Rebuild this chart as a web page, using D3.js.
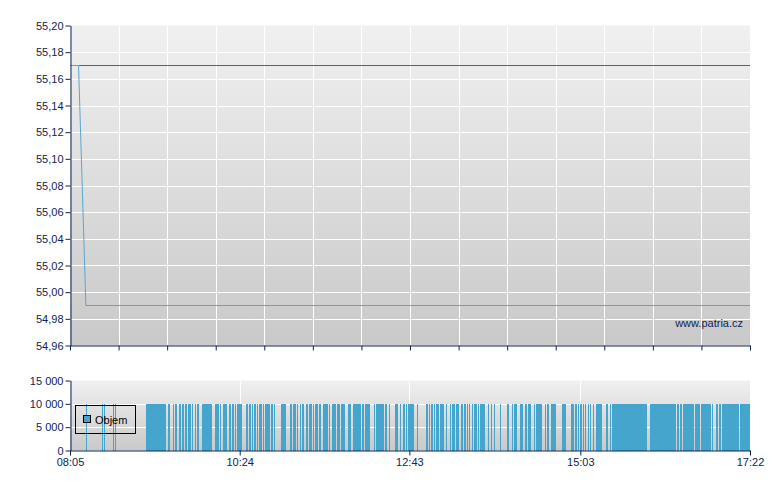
<!DOCTYPE html>
<html>
<head>
<meta charset="utf-8">
<script src="https://cdn.jsdelivr.net/npm/d3@7/dist/d3.min.js"></script>
<style>
  body { margin: 0; background: #ffffff; }
  svg { display: block; font-family: Arial, "Liberation Sans", sans-serif; }
</style>
</head>
<body>
<svg id="chart" width="780" height="490"></svg>
<script>
// ---------- DATA ----------
const priceTimes  = ["08:05", "08:12", "08:18", "17:22"];
const priceValues = [55.17, 55.17, 54.99, 54.99];
const refTimes    = ["08:12", "17:22"];
const refValues   = [55.17, 55.17];

const priceTicks = [54.96, 54.98, 55.00, 55.02, 55.04, 55.06, 55.08, 55.10, 55.12, 55.14, 55.16, 55.18, 55.20];
const volTicks   = [0, 5000, 10000, 15000];
const timeTicks  = ["08:05", "10:24", "12:43", "15:03", "17:22"];
const sessionRange = ["08:05", "17:22"];

const volFrom = ["08:18","08:31","08:33","08:40","08:42","09:07","09:25","09:29","09:31","09:34","09:37","09:39","09:42","09:45","09:47","09:49","09:53","10:04","10:08","10:10","10:15","10:18","10:20","10:22","10:29","10:32","10:34","10:36","10:38","10:40","10:43","10:45","10:50","10:52","10:58","11:05","11:08","11:11","11:13","11:15","11:18","11:21","11:24","11:26","11:29","11:32","11:37","11:40","11:44","11:47","11:53","11:57","12:04","12:07","12:14","12:16","12:23","12:26","12:31","12:35","12:38","12:40","12:42","12:49","12:57","12:59","13:01","13:03","13:05","13:08","13:13","13:16","13:18","13:21","13:25","13:28","13:30","13:32","13:34","13:36","13:39","13:41","13:47","13:50","13:52","13:57","14:03","14:07","14:09","14:14","14:18","14:20","14:25","14:27","14:34","14:36","14:39","14:48","14:55","14:59","15:01","15:03","15:05","15:07","15:09","15:11","15:13","15:16","15:24","15:27","15:29","16:00","16:22","16:25","16:27","16:37","16:42","16:51","16:54","16:57","16:59","17:14"];
const volTo   = ["08:19","08:32","08:34","08:41","08:43","09:24","09:27","09:30","09:33","09:36","09:38","09:41","09:44","09:46","09:48","09:51","10:01","10:07","10:09","10:14","10:17","10:19","10:21","10:26","10:31","10:33","10:35","10:37","10:39","10:42","10:44","10:49","10:51","10:53","11:02","11:07","11:10","11:12","11:14","11:17","11:20","11:23","11:25","11:28","11:31","11:36","11:38","11:43","11:46","11:50","11:55","12:03","12:06","12:11","12:15","12:22","12:25","12:27","12:34","12:36","12:39","12:41","12:47","12:50","12:58","13:00","13:02","13:04","13:07","13:11","13:14","13:17","13:20","13:24","13:27","13:29","13:31","13:33","13:35","13:38","13:40","13:45","13:48","13:51","13:53","13:58","14:05","14:08","14:11","14:16","14:19","14:23","14:26","14:32","14:35","14:37","14:43","14:51","14:58","15:00","15:02","15:04","15:06","15:08","15:10","15:12","15:14","15:21","15:26","15:28","15:58","16:21","16:24","16:26","16:36","16:41","16:50","16:52","16:56","16:58","17:13","17:22"];
const volValues = [10000,10000,10000,10000,10000,10000,10000,10000,10000,10000,
                   10000,10000,10000,10000,10000,10000,10000,10000,10000,10000,
                   10000,10000,10000,10000,10000,10000,10000,10000,10000,10000,
                   10000,10000,10000,10000,10000,10000,10000,10000,10000,10000,
                   10000,10000,10000,10000,10000,10000,10000,10000,10000,10000,
                   10000,10000,10000,10000,10000,10000,10000,10000,10000,10000,
                   10000,10000,10000,10000,10000,10000,10000,10000,10000,10000,
                   10000,10000,10000,10000,10000,10000,10000,10000,10000,10000,
                   10000,10000,10000,10000,10000,10000,10000,10000,10000,10000,
                   10000,10000,10000,10000,10000,10000,10000,10000,10000,10000,
                   10000,10000,10000,10000,10000,10000,10000,10000,10000,10000,
                   10000,10000,10000,10000,10000,10000,10000,10000,10000,10000,
                   10000,10000];
const legendLabel = "Objem";
const watermark = "www.patria.cz";

// ---------- SETUP ----------
const parse = d3.timeParse("%H:%M");
const loc = d3.formatLocale({decimal: ",", thousands: "\u00a0", grouping: [3], currency: ["", ""]});
const priceFmt = loc.format(".2f");
const volFmt = loc.format(",d");

const navy = "#0e2557";
const barColor = "#46a5cd";

const svg = d3.select("#chart");
const L = 70, R = 750;
const topT = 25.5, topB = 345.5;
const volT = 380.5, volB = 450.5;

const t0 = parse(sessionRange[0]), t1 = parse(sessionRange[1]);
const x = d3.scaleTime().domain([t0, t1]).range([L, R]);
const yP = d3.scaleLinear().domain([priceTicks[0], priceTicks[priceTicks.length - 1]]).range([topB, topT]);
const yV = d3.scaleLinear().domain([volTicks[0], volTicks[volTicks.length - 1]]).range([volB, volT]);

// gradients
const defs = svg.append("defs");
const grad = defs.append("linearGradient").attr("id", "bg").attr("x1", 0).attr("y1", 0).attr("x2", 0).attr("y2", 1);
grad.append("stop").attr("offset", "0%").attr("stop-color", "#f0f0f0");
grad.append("stop").attr("offset", "100%").attr("stop-color", "#c9c9c9");

svg.append("rect").attr("x", L).attr("y", topT).attr("width", R - L).attr("height", topB - topT).attr("fill", "url(#bg)");
svg.append("rect").attr("x", L).attr("y", volT).attr("width", R - L).attr("height", volB - volT).attr("fill", "url(#bg)");

// vertical grid positions for the price panel (14 intervals)
const gridTimes = d3.range(15).map(i => new Date(+t0 + i * (t1 - t0) / 14));

const gTop = svg.append("g").attr("shape-rendering", "crispEdges").attr("stroke", "#ffffff").attr("stroke-width", 1);
gTop.selectAll("line.h").data(priceTicks.slice(1, -1)).join("line")
  .attr("x1", L).attr("x2", R)
  .attr("y1", d => Math.round(yP(d)) + 0.5).attr("y2", d => Math.round(yP(d)) + 0.5);
gTop.selectAll("line.v").data(gridTimes.slice(1)).join("line")
  .attr("x1", d => Math.round(x(d)) + 0.5).attr("x2", d => Math.round(x(d)) + 0.5)
  .attr("y1", topT).attr("y2", topB);

const timeTickDates = timeTicks.map(parse);
const gVol = svg.append("g").attr("shape-rendering", "crispEdges").attr("stroke", "#ffffff").attr("stroke-width", 1);
gVol.selectAll("line.h").data(volTicks.slice(1, -1)).join("line")
  .attr("x1", L).attr("x2", R)
  .attr("y1", d => Math.round(yV(d)) + 0.5).attr("y2", d => Math.round(yV(d)) + 0.5);
gVol.selectAll("line.v").data(timeTickDates.slice(1, -1)).join("line")
  .attr("x1", d => Math.round(x(d)) + 0.5).attr("x2", d => Math.round(x(d)) + 0.5)
  .attr("y1", volT).attr("y2", volB);

// volume bars
const bars = volFrom.map((f, i) => ({from: parse(f), to: parse(volTo[i]), v: volValues[i]}));
svg.append("g").attr("shape-rendering", "crispEdges")
  .selectAll("rect").data(bars).join("rect")
  .attr("x", d => Math.round(x(d.from)))
  .attr("width", d => Math.max(1, Math.round(x(d.to)) - Math.round(x(d.from))))
  .attr("y", d => Math.round(yV(d.v)))
  .attr("height", d => Math.round(yV(0)) - Math.round(yV(d.v)))
  .attr("fill", barColor);

// legend
const lg = svg.append("g").attr("shape-rendering", "crispEdges");
lg.append("rect").attr("x", 75.5).attr("y", 405.5).attr("width", 60).attr("height", 28)
  .attr("fill", "none").attr("stroke", "#000000");
lg.append("rect").attr("x", 83.5).attr("y", 415.5).attr("width", 7).attr("height", 7)
  .attr("fill", barColor).attr("stroke", "#000000");
lg.append("text").attr("x", 95).attr("y", 424).attr("font-size", 11).attr("fill", "#000000").text(legendLabel);

// price lines
const refPts = refTimes.map((t, i) => [x(parse(t)), yP(refValues[i])]);
svg.append("path").attr("d", d3.line()(refPts)).attr("fill", "none")
  .attr("stroke", "#cc3333").attr("stroke-width", 1).attr("shape-rendering", "crispEdges");
const pricePts = priceTimes.map((t, i) => [x(parse(t)), yP(priceValues[i])]);
svg.append("path").attr("d", d3.line()(pricePts)).attr("fill", "none")
  .attr("stroke", "#5aa6d2").attr("stroke-width", 1);

// watermark
svg.append("text").attr("x", 743).attr("y", 327).attr("text-anchor", "end")
  .attr("font-size", 11).attr("fill", navy).text(watermark);

// axes
function styleAxis(g) {
  g.selectAll("path.domain").attr("stroke", navy).attr("stroke-width", 1);
  g.selectAll(".tick line").attr("stroke", navy);
  g.selectAll(".tick text").attr("fill", navy).attr("font-size", 11)
    .attr("font-family", "Arial, 'Liberation Sans', sans-serif");
}
svg.append("g").attr("transform", `translate(${L + 0.5},0)`)
  .call(d3.axisLeft(yP).tickValues(priceTicks).tickFormat(priceFmt).tickSize(5).tickSizeOuter(0).tickPadding(2))
  .call(styleAxis);
svg.append("g").attr("transform", `translate(0,${topB})`)
  .call(d3.axisBottom(x).tickValues(gridTimes).tickFormat("").tickSize(5).tickSizeOuter(0))
  .call(styleAxis);
svg.append("g").attr("transform", `translate(${L + 0.5},0)`)
  .call(d3.axisLeft(yV).tickValues(volTicks).tickFormat(volFmt).tickSize(5).tickSizeOuter(0).tickPadding(2))
  .call(styleAxis);
svg.append("g").attr("transform", `translate(0,${volB})`)
  .call(d3.axisBottom(x).tickValues(timeTickDates).tickFormat(d3.timeFormat("%H:%M")).tickSize(5).tickSizeOuter(0).tickPadding(3))
  .call(styleAxis);
</script>
</body>
</html>
